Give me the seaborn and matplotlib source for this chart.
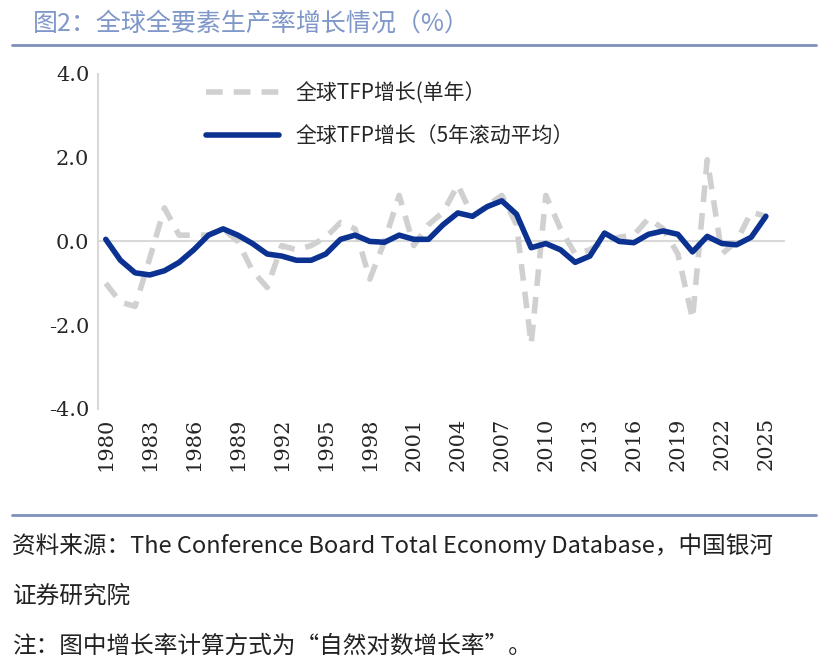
import numpy as np
import pandas as pd
import matplotlib
matplotlib.use("Agg")
import matplotlib.pyplot as plt
import seaborn as sns

sns.set_style("white")
plt.rcParams['font.family'] = ['Noto Sans CJK SC', 'DejaVu Sans']

years = list(range(1980, 2026))
tfp_annual = [-1.0, -1.45, -1.55, -0.4, 0.8, 0.15, 0.15, 0.15, 0.3, 0.0,
              -0.7, -1.1, -0.1, -0.2, -0.1, 0.1, 0.45, 0.3, -0.9, 0.0,
              1.1, -0.1, 0.4, 0.7, 1.35, 0.6, 0.85, 1.1, 0.4, -2.45,
              1.1, 0.3, -0.3, -0.2, 0.0, 0.1, 0.15, 0.55, 0.3, -0.3,
              -1.85, 1.95, -0.3, 0.0, 0.7, 0.6]
tfp_ma5 = [0.05, -0.45, -0.75, -0.8, -0.7, -0.5, -0.2, 0.15, 0.3, 0.15,
           -0.05, -0.3, -0.35, -0.45, -0.45, -0.3, 0.05, 0.15, 0.0, -0.02,
           0.15, 0.05, 0.05, 0.4, 0.68, 0.6, 0.83, 0.97, 0.65, -0.15,
           -0.05, -0.2, -0.5, -0.35, 0.2, 0.0, -0.03, 0.17, 0.25, 0.17,
           -0.25, 0.12, -0.05, -0.08, 0.1, 0.6]
df = pd.DataFrame({"year": years, "annual": tfp_annual, "ma5": tfp_ma5})

fig = plt.figure(figsize=(8.28, 6.66), dpi=100)
ax = fig.add_axes([0.118, 0.386, 0.83, 0.503])

ax.axhline(0, color="#d9d9d9", lw=1.5, zorder=1)
sns.lineplot(data=df, x="year", y="annual", ax=ax, color="#d0d0d0", lw=4,
             linestyle=(0, (3, 2)), label="全球TFP增长(单年）", zorder=2)
sns.lineplot(data=df, x="year", y="ma5", ax=ax, color="#0b3191", lw=4,
             label="全球TFP增长（5年滚动平均）", zorder=3)

ax.set_ylim(-4, 4)
ax.set_xlim(1979.45, 2026.3)
ax.set_yticks([-4, -2, 0, 2, 4])
ax.set_yticklabels(["-4.0", "-2.0", "0.0", "2.0", "4.0"], fontsize=15, family="serif")
ax.set_xticks(years[::3])
ax.set_xticklabels([str(y) for y in years[::3]], rotation=90, fontsize=15, family="serif")
ax.tick_params(axis="both", length=0, pad=6)
ax.set_xlabel("")
ax.set_ylabel("")
for s in ["top", "right", "bottom"]:
    ax.spines[s].set_visible(False)
ax.spines["left"].set_color("#d9d9d9")
ax.spines["left"].set_linewidth(1.5)
ax.legend(loc="upper left", bbox_to_anchor=(0.13, 1.03), frameon=False,
          fontsize=15, handlelength=3.5, labelspacing=1.0)

fig.text(0.04, 0.965, "图2：全球全要素生产率增长情况（%）", fontsize=18, color="#7f97c9", va="center")
fig.add_artist(plt.Line2D([0.015, 0.985], [0.932, 0.932], color="#7f8fba", lw=2))
fig.add_artist(plt.Line2D([0.015, 0.985], [0.227, 0.227], color="#7f8fba", lw=2))
fig.text(0.015, 0.18, "资料来源：The Conference Board Total Economy Database，中国银河",
         fontsize=17, style="italic", color="#222222", va="center")
fig.text(0.015, 0.105, "证券研究院", fontsize=17, style="italic", color="#222222", va="center")
fig.text(0.015, 0.03, "注：图中增长率计算方式为“自然对数增长率”。", fontsize=17,
         style="italic", color="#222222", va="center")

fig.savefig("out.png", dpi=100)
